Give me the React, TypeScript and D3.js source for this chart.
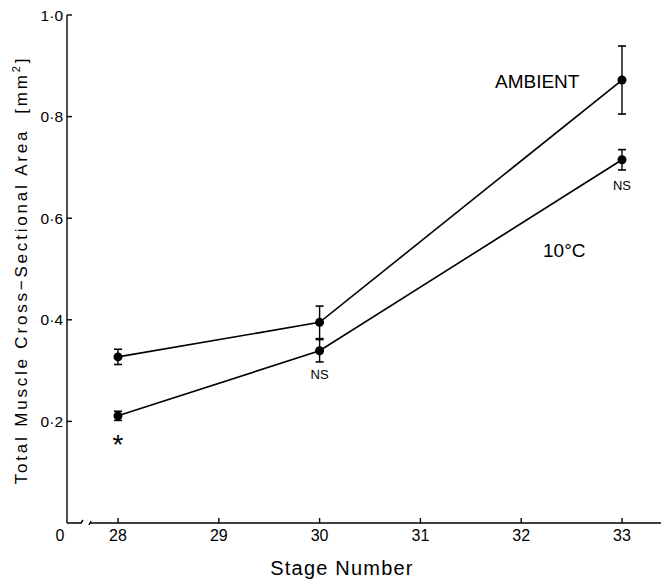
import React from "react";
import * as d3 from "d3";

const stages = [28, 30, 33];
const ambientMean = [0.327, 0.395, 0.872];
const ambientErr = [0.015, 0.032, 0.067];
const coldMean = [0.211, 0.339, 0.715];
const coldErr = [0.009, 0.022, 0.02];
const xTicks = [28, 29, 30, 31, 32, 33];
const yTicks = [0.2, 0.4, 0.6, 0.8, 1.0];

const W = 661;
const H = 581;
const FONT = "'Liberation Sans', Arial, sans-serif";

export default function App() {
  const x = d3.scaleLinear().domain([28, 33]).range([118, 622]);
  const y = d3.scaleLinear().domain([0, 1]).range([523, 15]);
  const x0 = 67;
  const y0 = y(0);

  const line = d3
    .line<number>()
    .x((_, i) => x(stages[i]))
    .y((d) => y(d));

  const series = [
    { mean: ambientMean, err: ambientErr },
    { mean: coldMean, err: coldErr },
  ];

  const fmt = (v: number) => v.toFixed(1).replace(".", "·");

  return (
    <svg
      width={W}
      height={H}
      style={{ position: "absolute", left: 0, top: 0, background: "#fff" }}
      fontFamily={FONT}
    >
      {/* y axis */}
      <line x1={x0} x2={x0} y1={y(1)} y2={y0} stroke="#000" strokeWidth={1.4} />
      {yTicks.map((t) => (
        <g key={t}>
          <line x1={x0} x2={x0 + 5} y1={y(t)} y2={y(t)} stroke="#000" strokeWidth={1.4} />
          <text x={x0 - 4} y={y(t) + 5.5} textAnchor="end" fontSize={15.5}>
            {fmt(t)}
          </text>
        </g>
      ))}

      {/* x axis with break */}
      <path
        d={`M${x0},${y0}H${x0 + 14}l2,-3`}
        fill="none"
        stroke="#000"
        strokeWidth={1.4}
      />
      <path d={`M${x0 + 22},${y0 + 2}l2,-4`} fill="none" stroke="#000" strokeWidth={1.4} />
      <line x1={x0 + 23} x2={W} y1={y0} y2={y0} stroke="#000" strokeWidth={1.4} />
      {xTicks.map((t) => (
        <g key={t}>
          <line x1={x(t)} x2={x(t)} y1={y0} y2={y0 - 5} stroke="#000" strokeWidth={1.4} />
          <text x={x(t)} y={y0 + 18} textAnchor="middle" fontSize={16}>
            {t}
          </text>
        </g>
      ))}
      <text x={60} y={y0 + 18} textAnchor="middle" fontSize={16}>
        0
      </text>

      {/* series */}
      {series.map((s, si) => (
        <g key={si}>
          <path d={line(s.mean) || ""} fill="none" stroke="#000" strokeWidth={1.6} />
          {s.mean.map((m, i) => {
            const cx = x(stages[i]);
            const top = y(m + s.err[i]);
            const bot = y(m - s.err[i]);
            return (
              <g key={i}>
                <line x1={cx} x2={cx} y1={top} y2={bot} stroke="#000" strokeWidth={1.4} />
                <line x1={cx - 4} x2={cx + 4} y1={top} y2={top} stroke="#000" strokeWidth={1.6} />
                <line x1={cx - 4} x2={cx + 4} y1={bot} y2={bot} stroke="#000" strokeWidth={1.6} />
                <circle cx={cx} cy={y(m)} r={4.5} fill="#000" />
              </g>
            );
          })}
        </g>
      ))}

      {/* annotations */}
      <text x={x(28)} y={y(coldMean[0]) + 38} textAnchor="middle" fontSize={28}>
        *
      </text>
      <text x={x(30)} y={y(coldMean[1]) + 28} textAnchor="middle" fontSize={13}>
        NS
      </text>
      <text x={x(33)} y={y(coldMean[2]) + 30} textAnchor="middle" fontSize={13}>
        NS
      </text>
      <text x={495} y={88} fontSize={19}>
        AMBIENT
      </text>
      <text x={543} y={257} fontSize={19}>
        10°C
      </text>

      {/* axis titles */}
      <text
        transform="translate(27,270) rotate(-90)"
        textAnchor="middle"
        fontSize={17}
        letterSpacing={2.8}
      >
        Total Muscle Cross−Sectional Area{"\u00a0\u00a0"}[mm
        <tspan dy={-7} fontSize={11}>2</tspan>
        <tspan dy={7}>]</tspan>
      </text>
      <text x={342} y={575} textAnchor="middle" fontSize={20} letterSpacing={1.2}>
        Stage Number
      </text>
    </svg>
  );
}
